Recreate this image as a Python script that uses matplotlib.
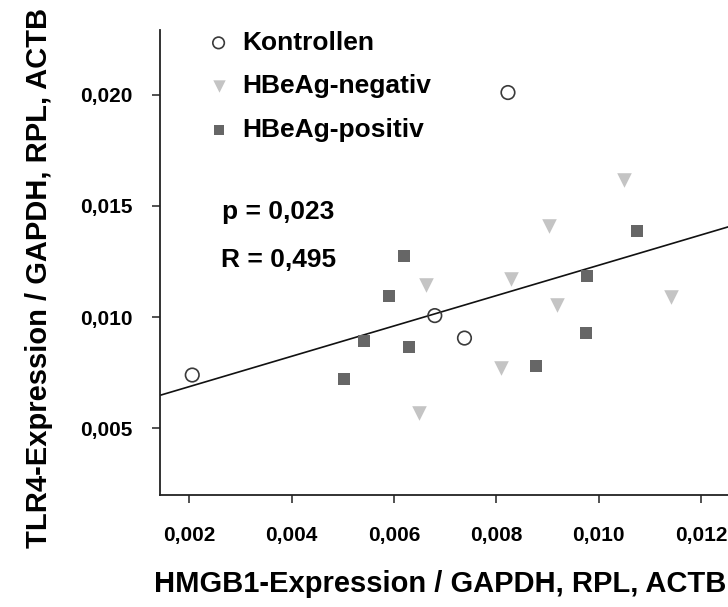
import numpy as np
import matplotlib
matplotlib.use('Agg')
import matplotlib.pyplot as plt

plt.rcParams['font.family'] = ['Liberation Sans', 'DejaVu Sans']
plt.rcParams['font.weight'] = 'bold'

# Kontrollen
ctrl_x = [0.00206, 0.00680, 0.00738, 0.00823]
ctrl_y = [0.00740, 0.01007, 0.00906, 0.02009]

# HBeAg-negativ
neg_x = [0.01049, 0.00904, 0.00829, 0.00663, 0.00918, 0.01142, 0.00810, 0.00650]
neg_y = [0.01618, 0.01410, 0.01170, 0.01146, 0.01054, 0.01092, 0.00772, 0.00570]

# HBeAg-positiv
pos_x = [0.00620, 0.00591, 0.00542, 0.00630, 0.00503, 0.00878, 0.00975, 0.00978, 0.01075]
pos_y = [0.01275, 0.01094, 0.00892, 0.00864, 0.00722, 0.00779, 0.00929, 0.01186, 0.01387]

x_ticks = [0.002, 0.004, 0.006, 0.008, 0.010, 0.012]
y_ticks = [0.005, 0.010, 0.015, 0.020]

p_text = 'p = 0,023'
r_text = 'R = 0,495'


def fmt(v):
    return f'{v:.3f}'.replace('.', ',')


fig = plt.figure(figsize=(7.28, 6.07), dpi=100)
ax = fig.add_axes([0.2198, 0.1845, 0.7802, 0.7661])

ax.scatter(ctrl_x, ctrl_y, s=95, marker='o', facecolors='none',
           edgecolors='#3a3a3a', linewidths=1.2, label='Kontrollen', zorder=3)
ax.scatter(neg_x, neg_y, s=110, marker='v', color='#c4c4c4',
           linewidths=0, label='HBeAg-negativ', zorder=3)
ax.scatter(pos_x, pos_y, s=75, marker='s', color='#666666',
           linewidths=0, label='HBeAg-positiv', zorder=3)

# regression over all points
all_x = np.array(ctrl_x + neg_x + pos_x)
all_y = np.array(ctrl_y + neg_y + pos_y)
slope, intercept = np.polyfit(all_x, all_y, 1)
ax.set_xlim(0.00143, 0.01253)
ax.set_ylim(0.00201, 0.0229)
xs = np.array(ax.get_xlim())
ax.plot(xs, slope * xs + intercept, color='#111111', lw=1.2, zorder=2)

ax.text(0.109, 0.609, p_text, transform=ax.transAxes, fontsize=19,
        fontweight='bold', va='center', ha='left')
ax.text(0.107, 0.506, r_text, transform=ax.transAxes, fontsize=19,
        fontweight='bold', va='center', ha='left')

ax.set_xticks(x_ticks)
ax.set_xticklabels([fmt(v) for v in x_ticks])
ax.set_yticks(y_ticks)
ax.set_yticklabels([fmt(v) for v in y_ticks])
ax.tick_params(direction='out', length=6, width=1.2, labelsize=15, pad=16,
               color='#333333')
ax.tick_params(axis='y', pad=14)
for lab in ax.get_xticklabels() + ax.get_yticklabels():
    lab.set_fontweight('bold')

for side in ['top', 'right']:
    ax.spines[side].set_visible(False)
for side in ['left', 'bottom']:
    ax.spines[side].set_linewidth(1.3)
    ax.spines[side].set_color('#222222')

ax.set_xlabel('HMGB1-Expression / GAPDH, RPL, ACTB', fontsize=21,
              fontweight='bold')
ax.set_ylabel('TLR4-Expression / GAPDH, RPL, ACTB', fontsize=21,
              fontweight='bold')
ax.xaxis.set_label_coords(0.493, -0.162)
ax.yaxis.set_label_coords(-0.188, 0.467)

leg = ax.legend(loc='upper left', bbox_to_anchor=(0.0636, 1.021), frameon=False,
                fontsize=19, markerscale=0.85, handletextpad=0.44,
                labelspacing=0.74, handlelength=0.9, borderaxespad=0)
for t in leg.get_texts():
    t.set_fontweight('bold')

fig.savefig('out.png', dpi=100)
